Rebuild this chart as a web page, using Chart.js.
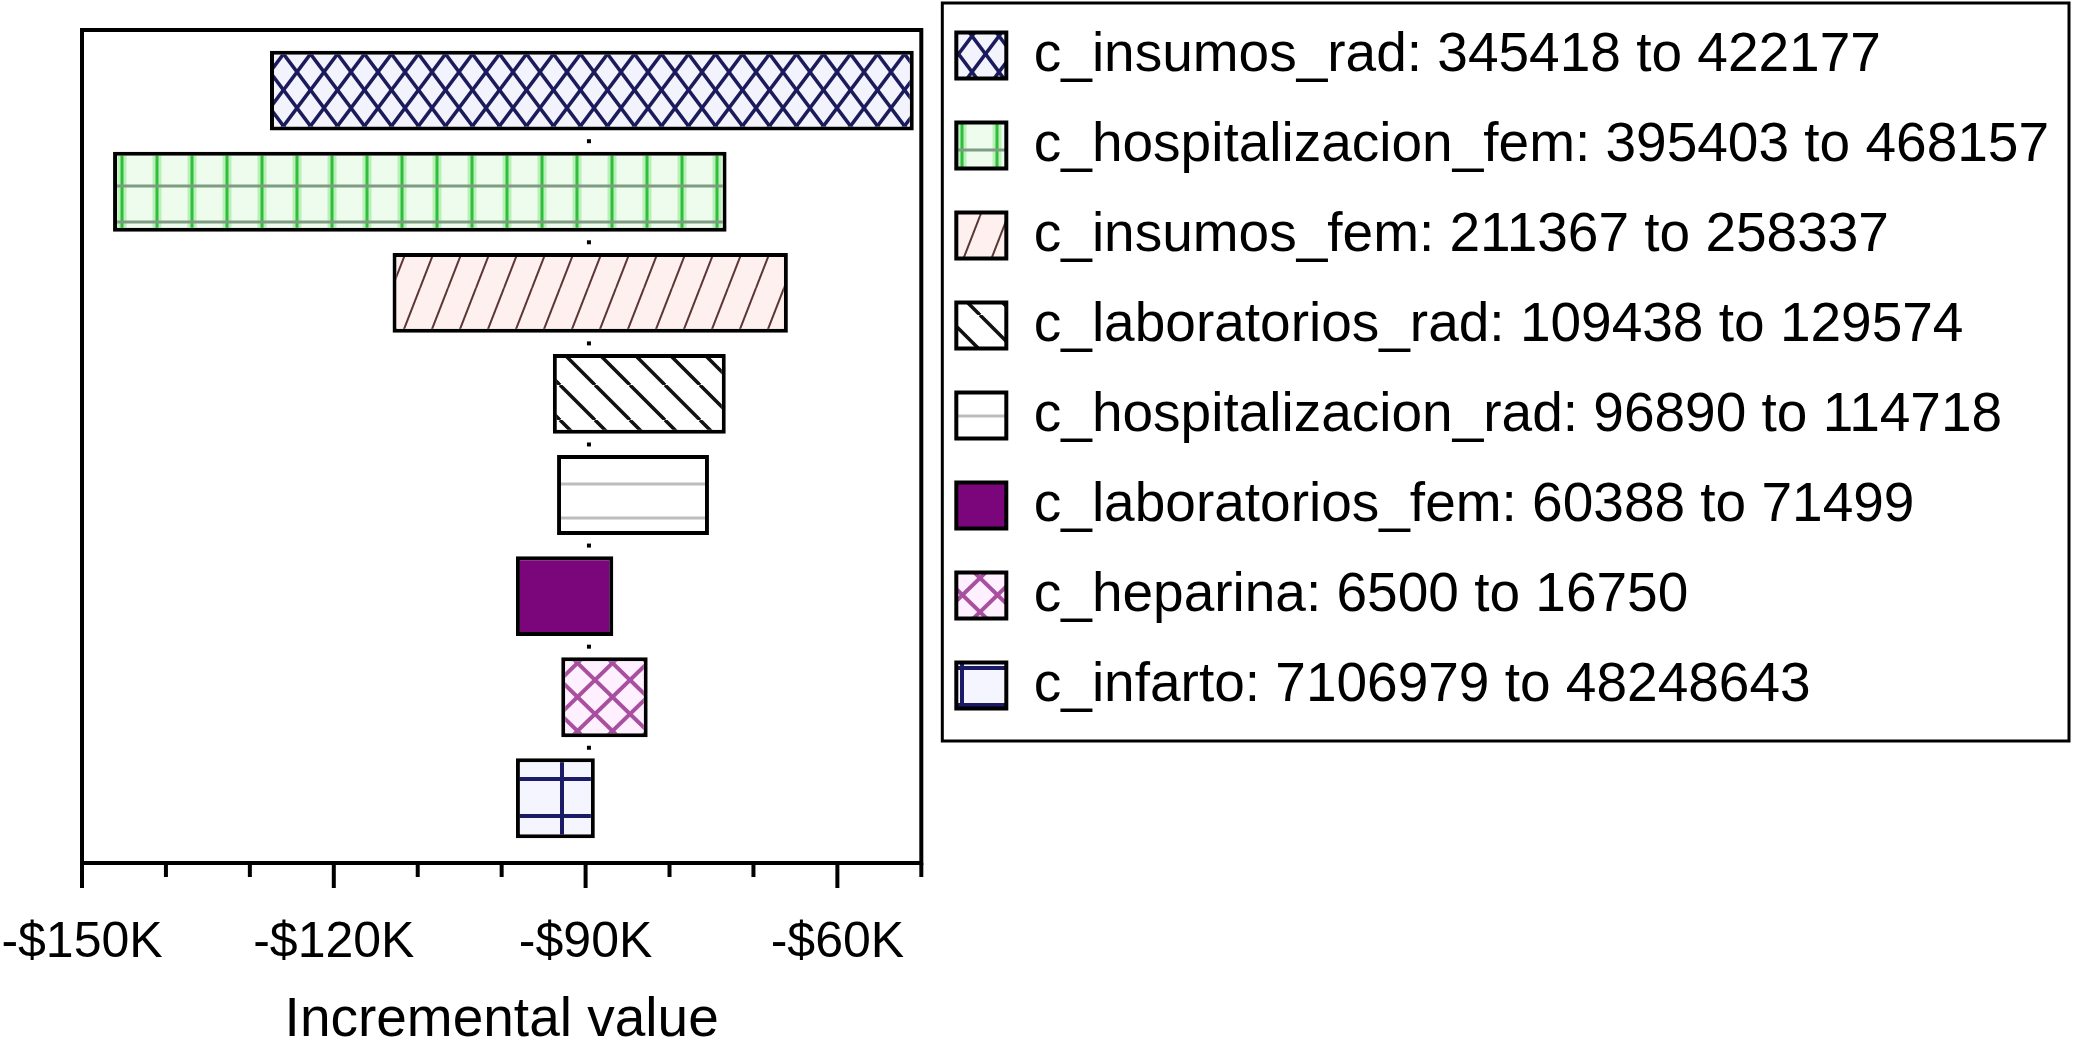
<!DOCTYPE html>
<html>
<head>
<meta charset="utf-8">
<script src="https://cdn.jsdelivr.net/npm/chart.js@4.4.0/dist/chart.umd.min.js"></script>
<style>
  html, body { margin: 0; padding: 0; background: #fff; }
  #wrap { width: 2073px; height: 1049px; }
</style>
</head>
<body>
<div id="wrap"><canvas id="tornadoChart"></canvas></div>
<script>
// VARIABLES AND THE INPUT RANGE OF EACH ONE (LEGEND TEXT)
const variables = [
  "c_insumos_rad",
  "c_hospitalizacion_fem",
  "c_insumos_fem",
  "c_laboratorios_rad",
  "c_hospitalizacion_rad",
  "c_laboratorios_fem",
  "c_heparina",
  "c_infarto",
];
const rangeLow = [345418, 395403, 211367, 109438, 96890, 60388, 6500, 7106979];
const rangeHigh = [422177, 468157, 258337, 129574, 114718, 71499, 16750, 48248643];

// INCREMENTAL VALUE AT BOTH ENDS OF EACH BAR
const valueLeft = [-127600, -146300, -113000, -93900, -93400, -98300, -92900, -98300];
const valueRight = [-50900, -73200, -65900, -73300, -75300, -86700, -82600, -88900];
const baseValue = -89600;

// X AXIS
const tickValues = [-150000, -120000, -90000, -60000];
const tickLabels = ["-$150K", "-$120K", "-$90K", "-$60K"];

// PATTERNS
function makePattern(w, h, bg, draw) {
  const c = document.createElement("canvas");
  c.width = w;
  c.height = h;
  const g = c.getContext("2d");
  g.fillStyle = bg;
  g.fillRect(0, 0, w, h);
  draw(g, w, h);
  return g.createPattern(c, "repeat");
}
function stroke(g, color, width, segs) {
  g.strokeStyle = color;
  g.lineWidth = width;
  segs.forEach((s) => {
    g.beginPath();
    g.moveTo(s[0], s[1]);
    g.lineTo(s[2], s[3]);
    g.stroke();
  });
}

const fills = [
  makePattern(27, 36, "#f3f3fd", (g, w, h) => stroke(g, "#1b1b5c", 3.5, [[0, 0, w, h], [w, 0, 0, h]])),
  makePattern(35, 36, "#eefcee", (g, w, h) => {
    stroke(g, "#b8f0b8", 9, [[17, 0, 17, h]]);
    stroke(g, "#2fbf3a", 3, [[17, 0, 17, h]]);
    stroke(g, "#7f9c82", 3, [[0, 6, w, 6]]);
  }),
  makePattern(28, 72, "#fdf0ee", (g, w, h) =>
    stroke(g, "#5b3636", 2, [[0, h, w, 0], [-w, h, 0, 0], [w, h, 2 * w, 0]])),
  makePattern(35, 35, "#ffffff", (g, w, h) =>
    stroke(g, "#111111", 3.5, [[0, 0, w, h], [-w, 0, 0, h], [w, 0, 2 * w, h]])),
  makePattern(10, 34, "#ffffff", (g, w, h) => stroke(g, "#bdbdbd", 3, [[0, 8, w, 8]])),
  "#7b067b",
  makePattern(35, 34, "#fff0ff", (g, w, h) => stroke(g, "#a8509f", 4, [[0, 0, w, h], [w, 0, 0, h]])),
  makePattern(80, 37, "#f5f5ff", (g, w, h) => stroke(g, "#1a1a66", 4, [[2, 0, 2, h], [0, 2, w, 2]])),
];

// empty band above the plot, the legend keeps the full height
const topGap = {
  id: "topGap",
  beforeInit(chart) {
    Chart.layouts.addBox(chart, {
      position: "top",
      weight: 0,
      fullSize: false,
      options: {},
      left: 0, top: 0, right: 0, bottom: 0, width: 0, height: 0,
      isHorizontal() { return true; },
      update(w) { this.width = w; this.height = 37; },
      draw() {},
    });
  },
};

// frame, tick marks, base dots, legend box
const decor = {
  id: "decor",
  beforeDatasetsDraw(chart) {
    const { ctx, scales: { x, y } } = chart;
    const px = x.getPixelForValue(baseValue);
    ctx.save();
    ctx.strokeStyle = "#000";
    ctx.lineWidth = 4;
    for (let i = 0; i < variables.length - 1; i++) {
      const py = y.getPixelForValue(i + 0.5);
      ctx.beginPath();
      ctx.moveTo(px, py - 2);
      ctx.lineTo(px, py + 2);
      ctx.stroke();
    }
    ctx.restore();
  },
  afterDraw(chart) {
    const { ctx, chartArea: a, scales: { x } } = chart;
    ctx.save();
    ctx.strokeStyle = "#000";
    ctx.lineWidth = 4;
    ctx.strokeRect(a.left, a.top, a.right - a.left, a.bottom - a.top);
    x.ticks.forEach((t) => {
      const px = x.getPixelForValue(t.value);
      const len = tickValues.includes(t.value) ? 25 : 14;
      ctx.beginPath();
      ctx.moveTo(px, a.bottom);
      ctx.lineTo(px, a.bottom + len);
      ctx.stroke();
    });
    const lg = chart.legend;
    const last = lg.legendHitBoxes[lg.legendHitBoxes.length - 1];
    const left = lg.left + 21;
    ctx.lineWidth = 3;
    ctx.strokeRect(left, 3, chart.width - 4 - left, last.top + last.height + 28 - 3);
    ctx.restore();
  },
};

Chart.defaults.font.family = "'Liberation Sans', Arial, sans-serif";
Chart.defaults.color = "#000";

var datasets = variables.map((name, i) => ({
  label: name + ": " + rangeLow[i] + " to " + rangeHigh[i],
  data: [{ y: i, x: [valueLeft[i], valueRight[i]] }],
  backgroundColor: fills[i],
  borderColor: "#000",
  borderWidth: 4,
  borderSkipped: false,
  grouped: false,
  barPercentage: 0.79,
  categoryPercentage: 1,
}));

var tornadoChart = new Chart(document.getElementById("tornadoChart"), {
  type: "bar",
  data: { datasets: datasets },
  options: {
    indexAxis: "y",
    responsive: true,
    maintainAspectRatio: false,
    animation: false,
    devicePixelRatio: 1,
    layout: { padding: { left: 82, right: 14, top: -7, bottom: -5 } },
    scales: {
      x: {
        type: "linear",
        min: -150000,
        max: -50000,
        border: { display: false },
        grid: {
          drawOnChartArea: false,
          drawTicks: true,
          tickLength: 50,
          tickColor: "rgba(0,0,0,0)",
        },
        ticks: {
          stepSize: 10000,
          autoSkip: false,
          maxRotation: 0,
          minRotation: 0,
          padding: 0,
          color: "#000",
          font: { size: 50 },
          callback: (v) => {
            const k = tickValues.indexOf(v);
            return k < 0 ? "" : tickLabels[k];
          },
        },
        title: {
          display: true,
          text: "Incremental value",
          color: "#000",
          font: { size: 55 },
          padding: { top: 15, bottom: 0 },
        },
      },
      y: {
        type: "linear",
        reverse: true,
        offset: false,
        min: -0.6,
        max: 7.64,
        display: false,
        afterBuildTicks: (scale) => {
          scale.ticks = variables.map((v, i) => ({ value: i }));
        },
      },
    },
    plugins: {
      legend: {
        position: "right",
        align: "start",
        maxWidth: 1300,
        labels: { color: "#000", font: { size: 55 }, boxWidth: 50, boxHeight: 46, padding: 35 },
      },
      tooltip: { enabled: false },
    },
  },
  plugins: [topGap, decor],
});
</script>
</body>
</html>
